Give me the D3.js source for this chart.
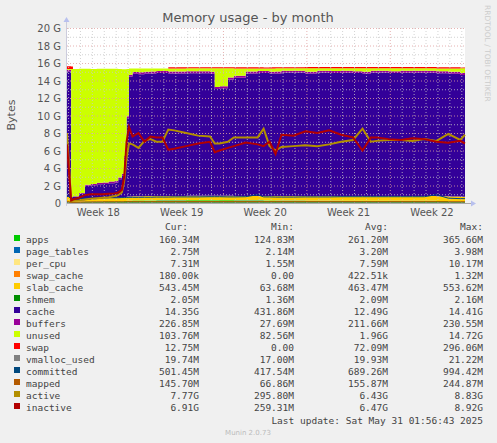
<!DOCTYPE html>
<html>
<head>
<meta charset="utf-8">
<script src="https://cdn.jsdelivr.net/npm/d3@7"></script>
<style>
body{margin:0;background:#f0f0f0;}
text{font-family:"DejaVu Sans",sans-serif;}
.mono{font-family:"DejaVu Sans Mono",monospace;font-size:9.5px;fill:#444;}
</style>
</head>
<body>
<svg id="chart" width="497" height="443"></svg>
<script>
// time in days since left edge of the graph
var days = [0,0.35,0.5,1,1.5,2,2.5,3,3.5,4,4.3,4.6,4.8,5.0,5.2,5.5,6,6.5,7,7.5,8,8.5,9,10,11,12,12.4,12.8,13.5,14,15,16,16.5,17,17.5,18,19,20,21,22,23,24,24.8,25.5,26,27,28,29,30,31,32,33,33.4];

// stacked areas, in G
var apps      = [0.16,0.13,0.13,0.15,0.16,0.17,0.18,0.19,0.2,0.2,0.2,0.21,0.22,0.24,0.26,0.28,0.28,0.29,0.29,0.3,0.3,0.3,0.3,0.31,0.31,0.32,0.32,0.31,0.31,0.3,0.3,0.3,0.29,0.28,0.27,0.27,0.27,0.26,0.26,0.26,0.25,0.25,0.25,0.25,0.25,0.24,0.24,0.24,0.24,0.22,0.18,0.17,0.16];
var pageTables= [0.003,0.002,0.002,0.003,0.003,0.003,0.003,0.003,0.003,0.003,0.003,0.003,0.003,0.003,0.003,0.003,0.003,0.003,0.003,0.003,0.003,0.003,0.003,0.003,0.003,0.003,0.003,0.003,0.003,0.003,0.003,0.003,0.003,0.003,0.003,0.003,0.003,0.003,0.003,0.003,0.003,0.003,0.003,0.003,0.003,0.003,0.003,0.003,0.003,0.003,0.003,0.003,0.003];
var perCpu    = [0.008,0.002,0.002,0.004,0.005,0.006,0.007,0.007,0.007,0.008,0.008,0.008,0.008,0.008,0.008,0.008,0.008,0.008,0.008,0.008,0.008,0.008,0.008,0.008,0.008,0.008,0.008,0.008,0.008,0.008,0.008,0.008,0.008,0.008,0.008,0.008,0.008,0.008,0.008,0.008,0.008,0.008,0.008,0.008,0.008,0.008,0.008,0.008,0.008,0.008,0.007,0.007,0.007];
var swapCache = [0.001,0.001,0.001,0.001,0.001,0.001,0.001,0.001,0.001,0.001,0.001,0.001,0.001,0.001,0.001,0.001,0.001,0.001,0.001,0.001,0.001,0.001,0.001,0.001,0.001,0.001,0.001,0.001,0.001,0.001,0.001,0.001,0.001,0.001,0.001,0.001,0.001,0.001,0.001,0.001,0.001,0.001,0.001,0.001,0.001,0.001,0.001,0.001,0.001,0.001,0.001,0.001,0.001];
var slabCache = [0.5,0.06,0.08,0.15,0.2,0.25,0.3,0.33,0.35,0.38,0.4,0.42,0.44,0.46,0.48,0.48,0.48,0.5,0.5,0.5,0.5,0.5,0.5,0.5,0.5,0.5,0.5,0.5,0.5,0.5,0.5,0.5,0.5,0.5,0.52,0.52,0.52,0.52,0.53,0.53,0.53,0.53,0.53,0.54,0.54,0.54,0.54,0.54,0.54,0.54,0.54,0.54,0.54];
var shmem     = [0.002,0.002,0.002,0.002,0.002,0.002,0.002,0.002,0.002,0.002,0.002,0.002,0.002,0.002,0.002,0.002,0.002,0.002,0.002,0.002,0.002,0.002,0.002,0.002,0.002,0.002,0.002,0.002,0.002,0.002,0.002,0.002,0.002,0.002,0.002,0.002,0.002,0.002,0.002,0.002,0.002,0.002,0.002,0.002,0.002,0.002,0.002,0.002,0.002,0.002,0.002,0.002,0.002];
var cache     = [14.35,0.45,0.5,0.75,1.6,1.6,1.65,1.65,1.7,1.75,2.1,2.5,4.5,9.0,13.7,14.0,13.95,14.0,14.0,14.05,14.05,14.0,14.0,14.0,14.0,13.95,12.2,12.3,13.3,13.5,14.0,14.05,14.05,14.0,14.0,14.1,14.1,14.0,14.1,14.05,14.1,14.05,14.0,14.1,14.1,14.05,14.1,14.1,14.1,14.05,14.05,13.9,14.35];
var buffers   = [0.2,0.03,0.05,0.08,0.12,0.14,0.16,0.17,0.18,0.19,0.2,0.2,0.2,0.21,0.21,0.21,0.21,0.21,0.22,0.22,0.22,0.22,0.22,0.22,0.22,0.22,0.22,0.22,0.22,0.22,0.22,0.22,0.22,0.22,0.22,0.22,0.22,0.22,0.22,0.22,0.22,0.22,0.22,0.22,0.22,0.22,0.22,0.22,0.22,0.22,0.22,0.22,0.23];
var unused    = [0.1,14.65,14.55,14.2,13.25,13.15,13.05,13.0,12.9,12.8,12.4,11.95,9.9,5.4,0.7,0.4,0.45,0.35,0.35,0.3,0.3,0.35,0.35,0.35,0.35,0.4,2.15,2.05,1.05,0.85,0.35,0.3,0.3,0.37,0.38,0.28,0.28,0.38,0.27,0.33,0.28,0.33,0.38,0.27,0.27,0.33,0.28,0.28,0.28,0.34,0.38,0.55,0.1];
var swap      = [0.3,0.28,0.0,0,0,0,0,0,0,0,0,0,0,0,0,0,0,0,0,0,0,0.12,0.12,0.12,0.12,0.12,0.12,0.12,0.12,0.12,0.12,0.12,0.12,0.12,0.12,0.12,0.12,0.14,0.14,0.14,0.14,0.14,0.14,0.14,0.14,0.14,0.14,0.14,0.14,0.14,0.12,0.1,0.01];

// lines, in G
var vmallocUsed=[0.02,0.02,0.02,0.02,0.02,0.02,0.02,0.02,0.02,0.02,0.02,0.02,0.02,0.02,0.02,0.02,0.02,0.02,0.02,0.02,0.02,0.02,0.02,0.02,0.02,0.02,0.02,0.02,0.02,0.02,0.02,0.02,0.02,0.02,0.02,0.02,0.02,0.02,0.02,0.02,0.02,0.02,0.02,0.02,0.02,0.02,0.02,0.02,0.02,0.02,0.02,0.02,0.02];
var committed = [0.9,0.45,0.45,0.5,0.55,0.55,0.55,0.6,0.6,0.6,0.6,0.62,0.62,0.63,0.65,0.65,0.65,0.66,0.66,0.68,0.68,0.68,0.7,0.7,0.7,0.72,0.72,0.72,0.7,0.7,0.72,0.95,0.7,0.7,0.68,0.68,0.68,0.7,0.7,0.7,0.72,0.72,0.72,0.72,0.72,0.72,0.72,0.72,0.72,0.95,0.55,0.5,0.5];
var mapped    = [0.2,0.07,0.08,0.1,0.12,0.13,0.14,0.14,0.15,0.15,0.15,0.15,0.15,0.16,0.16,0.16,0.16,0.16,0.16,0.16,0.16,0.16,0.16,0.16,0.16,0.16,0.16,0.16,0.16,0.16,0.16,0.16,0.16,0.16,0.16,0.16,0.16,0.16,0.16,0.16,0.16,0.16,0.16,0.16,0.16,0.16,0.16,0.16,0.16,0.16,0.15,0.15,0.15];
var active    = [8.0,0.2,0.25,0.3,0.4,0.5,0.55,0.6,0.65,0.8,0.9,1.2,2.5,5.2,6.8,6.7,6.3,7.1,7.3,7.0,7.0,8.4,8.3,8.0,7.7,7.6,6.8,6.8,7.0,7.5,7.5,7.5,8.5,6.5,6.0,6.4,6.5,6.6,6.5,6.7,7.0,7.2,8.5,7.0,7.1,7.2,7.2,7.1,7.3,7.1,7.9,7.2,7.8];
var inactive  = [6.7,0.3,0.4,0.6,0.9,1.0,1.0,1.0,1.05,1.1,1.2,1.5,3.0,7.0,8.7,7.6,8.0,7.0,7.6,7.5,7.5,6.1,6.2,6.5,6.8,7.0,5.8,6.0,6.3,6.5,6.9,6.7,6.5,7.0,5.6,7.8,7.7,8.2,8.0,8.3,7.8,7.5,6.0,7.5,7.5,7.3,7.2,7.4,7.3,7.0,6.9,7.1,6.8];

var yTicks = [0,2,4,6,8,10,12,14,16,18,20];
var weekLabels = ["Week 18","Week 19","Week 20","Week 21","Week 22"];
var weekStarts = [-0.87,6.13,13.13,20.13,27.13];

var names  = ["apps","page_tables","per_cpu","swap_cache","slab_cache","shmem","cache","buffers","unused","swap","vmalloc_used","committed","mapped","active","inactive"];
var colors = ["#00cc00","#0066b3","#ffe680","#ff8000","#ffcc00","#008f00","#330099","#990099","#ccff00","#ff0000","#808080","#00487d","#b35a00","#b38f00","#b30000"];
var cur = ["160.34M","2.75M","7.31M","180.00k","543.45M","2.05M","14.35G","226.85M","103.76M","12.75M","19.74M","501.45M","145.70M","7.77G","6.91G"];
var min = ["124.83M","2.14M","1.55M","0.00","63.68M","1.36M","431.86M","27.69M","82.56M","0.00","17.00M","417.54M","66.86M","295.80M","259.31M"];
var avg = ["261.20M","3.20M","7.59M","422.51k","463.47M","2.09M","12.49G","211.66M","1.96G","72.09M","19.93M","689.26M","155.87M","6.43G","6.47G"];
var max = ["365.66M","3.98M","10.17M","1.32M","553.62M","2.16M","14.41G","230.55M","14.72G","296.06M","21.22M","994.42M","244.87M","8.83G","8.92G"];

var stackSeries = [apps,pageTables,perCpu,swapCache,slabCache,shmem,cache,buffers,unused,swap];
var lineSeries = [vmallocUsed,committed,mapped,active,inactive];

var svg = d3.select("#chart");
var pL = 67, pR = 465, pT = 28, pB = 203;
var x = d3.scaleLinear().domain([0,33.4]).range([pL,pR]);
var y = d3.scaleLinear().domain([0,20]).range([pB,pT]);

svg.append("rect").attr("x",pL).attr("y",pT).attr("width",pR-pL).attr("height",pB-pT).attr("fill","#fff");

// stack
var rows = days.map(function(d,i){
    var r = {day:d};
    stackSeries.forEach(function(s,k){ r[k]=s[i]; });
    return r;
});
var stacked = d3.stack().keys(d3.range(stackSeries.length))(rows);
var area = d3.area().x(function(d){return x(d.data.day);}).y0(function(d){return y(d[0]);}).y1(function(d){return y(d[1]);}).curve(d3.curveStepAfter);
svg.append("g").selectAll("path").data(stacked).join("path")
    .attr("d",area).attr("fill",function(d,i){return colors[i];});

// grid over the areas
var g = svg.append("g");
d3.range(0,20.5,1).forEach(function(v){
    g.append("line").attr("x1",pL).attr("x2",pR).attr("y1",y(v)+0.5).attr("y2",y(v)+0.5)
     .attr("stroke",v%2===0?"#e0a0a0":"#c8c8c8").attr("stroke-dasharray","1,2").attr("stroke-width",0.8);
});
d3.range(0,34).forEach(function(d){
    var xs = x(d+0.13);
    var major = weekStarts.some(function(w){return Math.abs(w-d-0.13)<0.01;});
    g.append("line").attr("x1",xs).attr("x2",xs).attr("y1",pT).attr("y2",pB)
     .attr("stroke",major?"#e0a0a0":"#c8c8c8").attr("stroke-dasharray","1,2").attr("stroke-width",0.8);
});

// lines
lineSeries.forEach(function(s,k){
    var line = d3.line().x(function(d,i){return x(days[i]);}).y(function(d){return y(d);});
    svg.append("path").datum(s).attr("d",line).attr("fill","none")
       .attr("stroke",colors[10+k]).attr("stroke-width",k>=3?2:1);
});

// axes
svg.append("line").attr("x1",pL).attr("x2",pR+6).attr("y1",pB+0.5).attr("y2",pB+0.5).attr("stroke","#aaa");
svg.append("line").attr("x1",pL-0.5).attr("x2",pL-0.5).attr("y1",pB+3).attr("y2",pT-6).attr("stroke","#ccd");
svg.append("path").attr("d","M"+(pR+6)+","+(pB-2.5)+"l5,3l-5,3z").attr("fill","#b8c0ee");
svg.append("path").attr("d","M"+(pL-3.5)+","+(pT-6)+"l3,-5l3,5z").attr("fill","#b8c0ee");

var ya = svg.append("g");
yTicks.forEach(function(v){
    ya.append("text").attr("x",61).attr("y",y(v)+4).attr("text-anchor","end")
      .attr("font-size",10).attr("fill","#555").text(v===0?"0":v+" G");
});
weekLabels.forEach(function(w,i){
    svg.append("text").attr("x",x(weekStarts[i]+3.5)).attr("y",216).attr("text-anchor","middle")
       .attr("font-size",10).attr("fill","#555").text(w);
});

svg.append("text").attr("x",248).attr("y",22).attr("text-anchor","middle").attr("font-size",13).attr("fill","#555").text("Memory usage - by month");
svg.append("text").attr("transform","translate(15,115) rotate(-90)").attr("text-anchor","middle").attr("font-size",11).attr("fill","#555").text("Bytes");
svg.append("text").attr("transform","translate(485,5) rotate(90)").attr("font-size",7.5).attr("fill","#ccc").text("RRDTOOL / TOBI OETIKER");

// legend
var lg = svg.append("g");
[["Cur:",188],["Min:",294],["Avg:",388],["Max:",483]].forEach(function(h){
    lg.append("text").attr("class","mono").attr("x",h[1]).attr("y",230).attr("text-anchor","end").text(h[0]);
});
names.forEach(function(n,i){
    var yy = 243 + i*12;
    lg.append("rect").attr("x",14).attr("y",yy-8).attr("width",6).attr("height",6).attr("fill",colors[i]);
    lg.append("text").attr("class","mono").attr("x",26).attr("y",yy).text(n);
    lg.append("text").attr("class","mono").attr("x",199).attr("y",yy).attr("text-anchor","end").text(cur[i]);
    lg.append("text").attr("class","mono").attr("x",294).attr("y",yy).attr("text-anchor","end").text(min[i]);
    lg.append("text").attr("class","mono").attr("x",388).attr("y",yy).attr("text-anchor","end").text(avg[i]);
    lg.append("text").attr("class","mono").attr("x",483).attr("y",yy).attr("text-anchor","end").text(max[i]);
});
lg.append("text").attr("class","mono").attr("x",483).attr("y",424).attr("text-anchor","end").text("Last update: Sat May 31 01:56:43 2025");
svg.append("text").attr("x",248).attr("y",435).attr("text-anchor","middle").attr("font-size",7).attr("fill","#bbb").text("Munin 2.0.73");
</script>
</body>
</html>
